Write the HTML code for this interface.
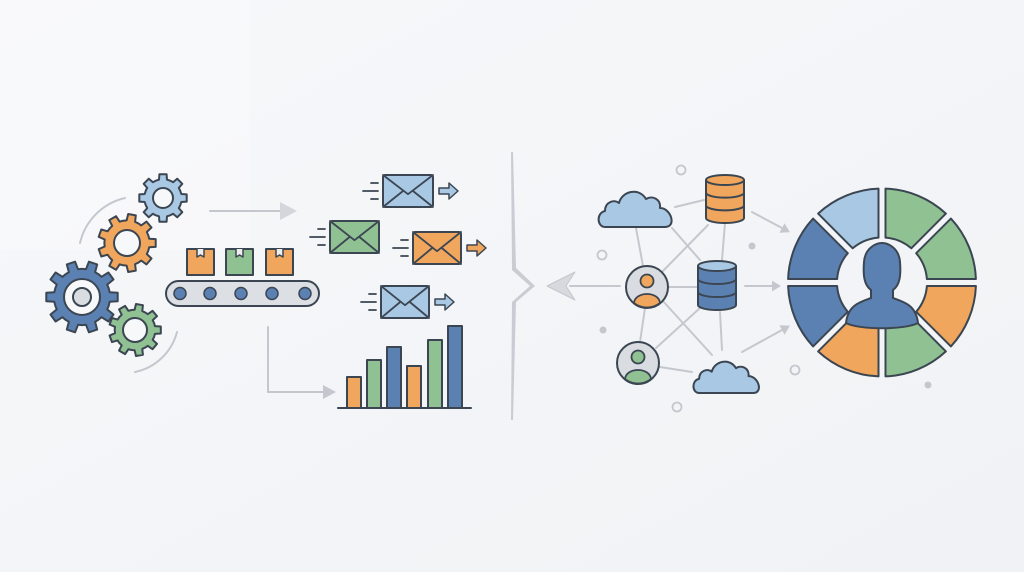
<!DOCTYPE html>
<html><head><meta charset="utf-8"><style>
html,body{margin:0;padding:0;background:#f2f4f7;}
svg{display:block}
</style></head><body>
<svg id="s" width="1024" height="572" viewBox="0 0 1024 572" xmlns="http://www.w3.org/2000/svg">
<defs>
<linearGradient id="bg" x1="0" y1="0" x2="1" y2="1">
<stop offset="0" stop-color="#f7f8fa"/><stop offset="1" stop-color="#f0f2f5"/>
</linearGradient>
</defs>
<rect width="1024" height="572" fill="url(#bg)"/>
<rect width="250" height="250" fill="#f9fafb" opacity="0.7"/>
<g id="g" stroke-linecap="round" stroke-linejoin="round"></g>
</svg>
<script>
var g=document.getElementById('g');var S='#3b4652';
var DB='#5b80b2',LB='#a9c8e4',OR='#f0a75d',GR='#90c193',GY='#bcc1c8';
function add(t,a){var e=document.createElementNS('http://www.w3.org/2000/svg',t);for(var k in a)e.setAttribute(k,a[k]);g.appendChild(e);return e;}
function gear(cx,cy,R,fill,n,hole,inner){
 var pts=[],ri=R*0.78,tw=Math.PI/n*0.55;
 for(var i=0;i<n;i++){var a=i*2*Math.PI/n;
  var b=[a-Math.PI/n*0.95,a-tw,a-tw*0.7,a+tw*0.7,a+tw,a+Math.PI/n*0.95-0.001];
  var r=[ri,ri,R,R,ri,ri];
  for(var j=0;j<6;j++)pts.push((cx+r[j]*Math.cos(b[j])).toFixed(1)+','+(cy+r[j]*Math.sin(b[j])).toFixed(1));}
 add('polygon',{points:pts.join(' '),fill:fill,stroke:S,'stroke-width':2});
 add('circle',{cx:cx,cy:cy,r:hole,fill:'#f7f8fa',stroke:S,'stroke-width':2});
 if(inner)add('circle',{cx:cx,cy:cy,r:inner,fill:'#d9dce0',stroke:S,'stroke-width':2});
}
add('path',{d:'M80,243 A60,60 0 0 1 125,198',fill:'none',stroke:'#c4c8ce','stroke-width':2});
add('path',{d:'M177,332 A55,55 0 0 1 135,372',fill:'none',stroke:'#c4c8ce','stroke-width':2});
gear(163,198,24,LB,8,10);
gear(127,243,29,OR,9,13);
gear(82,297,36,DB,10,18,9);
gear(135,330,26,GR,9,12);
add('line',{x1:210,y1:211,x2:282,y2:211,stroke:'#c4c8ce','stroke-width':2});
add('polygon',{points:'280,202 297,211 280,220',fill:'#d3d6db'});
[[187,OR],[226,GR],[266,OR]].forEach(function(b){
 add('rect',{x:b[0],y:249,width:27,height:26,fill:b[1],stroke:S,'stroke-width':2});
 add('path',{d:'M'+(b[0]+10)+',249 v8 l3.5,-2 l3.5,2 v-8',fill:'#eee',stroke:S,'stroke-width':1.5});
});
add('rect',{x:166,y:281,width:153,height:25,rx:12.5,fill:'#dcdfe4',stroke:S,'stroke-width':2});
[180,210,241,272,305].forEach(function(x){add('circle',{cx:x,cy:293.5,r:6,fill:DB,stroke:S,'stroke-width':1.5});});
function env(x,y,w,h,f,arrowFill){
 add('rect',{x:x,y:y,width:w,height:h,rx:2,fill:f,stroke:S,'stroke-width':2});
 add('path',{d:'M'+x+','+y+' L'+(x+w/2)+','+(y+h*0.6)+' L'+(x+w)+','+y+' M'+x+','+(y+h)+' L'+(x+w*0.4)+','+(y+h*0.5)+' M'+(x+w)+','+(y+h)+' L'+(x+w*0.6)+','+(y+h*0.5),fill:'none',stroke:S,'stroke-width':1.8});
 var my=y+h/2;
 add('path',{d:'M'+(x-12)+','+(my-8)+' h7 M'+(x-20)+','+my+' h15 M'+(x-12)+','+(my+8)+' h7',stroke:S,'stroke-width':1.8});
 if(!arrowFill)return;
 var ax=x+w+6;
 add('path',{d:'M'+ax+','+(my-3)+' h10 v-5 l9,8 l-9,8 v-5 h-10 z',fill:arrowFill,stroke:S,'stroke-width':1.5});
}
env(383,175,50,32,LB,LB);
env(330,221,49,32,GR,null);
env(413,232,48,32,OR,OR);
env(381,286,48,32,LB,LB);
add('line',{x1:268,y1:327,x2:268,y2:392,stroke:'#c4c8ce','stroke-width':2});
add('line',{x1:268,y1:392,x2:325,y2:392,stroke:'#c4c8ce','stroke-width':2});
add('polygon',{points:'323,385 336,392 323,399',fill:'#c4c8ce'});
[[347,377,OR],[367,360,GR],[387,347,DB],[407,366,OR],[428,340,GR],[448,326,DB]].forEach(function(b){
 add('rect',{x:b[0],y:b[1],width:14,height:408-b[1],fill:b[2],stroke:S,'stroke-width':2});});
add('line',{x1:338,y1:408,x2:471,y2:408,stroke:S,'stroke-width':2});
add('polygon',{points:'511,152 513,152 516,268 535,286 516,302 513,420 511,420 512,302 530,286 512,270',fill:'#c9ccd2'});
var L='#c4c8ce';
[[675,207,704,200],[636,228,643,266],[672,228,700,260],[708,225,663,271],[725,223,722,260],[668,287,697,287],[645,308,640,342],[662,300,712,355],[700,308,656,348],[720,312,722,350],[660,367,692,372]].forEach(function(l){
 add('line',{x1:l[0],y1:l[1],x2:l[2],y2:l[3],stroke:L,'stroke-width':2});});
function arr(x1,y1,x2,y2,hs,f){add('line',{x1:x1,y1:y1,x2:x2,y2:y2,stroke:L,'stroke-width':2});
 var a=Math.atan2(y2-y1,x2-x1),c=Math.cos(a),s=Math.sin(a);
 var p=[x2+c*hs,y2+s*hs,x2-s*hs*0.6,y2+c*hs*0.6,x2+s*hs*0.6,y2-c*hs*0.6];
 add('polygon',{points:p[0]+','+p[1]+' '+p[2]+','+p[3]+' '+p[4]+','+p[5],fill:f});}
arr(752,212,782,228,9,'#c4c8ce');arr(745,286,772,286,9,'#c4c8ce');arr(742,352,782,330,9,'#c4c8ce');
add('line',{x1:570,y1:286,x2:620,y2:286,stroke:L,'stroke-width':2});
add('path',{d:'M547,286 L575,272 L566,286 L575,300 Z',fill:'#d6d9de',stroke:'#c4c8ce','stroke-width':1});
function cloud(x,y,w,h){var sx=w/78,sy=h/45;
 add('path',{transform:'translate('+x+','+y+') scale('+sx+','+sy+')',d:'M8,45 C0,45 -1,31 8,29 C8,20 17,17 22,21 C25,9 42,5 49,17 C55,13 64,17 63,26 C74,26 80,45 68,45 Z',fill:LB,stroke:S,'stroke-width':2/((sx+sy)/2)});}
cloud(597,182,78,45);cloud(692,353,70,40);
function db(x,y,w,h,f){var rx=w/2,ry=5,cx=x+rx;
 add('path',{d:'M'+x+','+(y+ry)+' v'+(h-2*ry)+' a'+rx+','+ry+' 0 0 0 '+w+',0 v-'+(h-2*ry)+' z',fill:f,stroke:S,'stroke-width':2});
 for(var i=1;i<3;i++){var yy=y+ry+(h-2*ry)*i/3;add('path',{d:'M'+x+','+yy+' a'+rx+','+ry+' 0 0 0 '+w+',0',fill:'none',stroke:S,'stroke-width':2});}
 add('ellipse',{cx:cx,cy:y+ry,rx:rx,ry:ry,fill:f==DB?LB:f,stroke:S,'stroke-width':2});}
db(706,175,38,48,OR);db(698,261,38,49,DB);
function person(cx,cy,f){add('circle',{cx:cx,cy:cy,r:21,fill:'#d9dce0',stroke:S,'stroke-width':2});
 add('circle',{cx:cx,cy:cy-6,r:6.5,fill:f,stroke:S,'stroke-width':1.8});
 add('path',{d:'M'+(cx-13)+','+(cy+16)+' C'+(cx-12)+','+(cy+4)+' '+(cx+12)+','+(cy+4)+' '+(cx+13)+','+(cy+16)+' A21,21 0 0 1 '+(cx-13)+','+(cy+16)+' Z',fill:f,stroke:S,'stroke-width':1.8});}
person(647,287,OR);person(638,363,GR);
[[681,170],[602,255],[795,370],[677,407]].forEach(function(p){add('circle',{cx:p[0],cy:p[1],r:4.5,fill:'none',stroke:'#c4c8ce','stroke-width':1.8});});
[[752,246],[603,330],[928,385]].forEach(function(p){add('circle',{cx:p[0],cy:p[1],r:3.5,fill:'#c4c8ce'});});
var cx=882,cy=282.5,Ro=94,Ri=45,gap=3.5;
var cols=[OR,GR,OR,DB,DB,LB,GR,GR];
for(var i=0;i<8;i++){var a1=i*Math.PI/4,a2=a1+Math.PI/4;
 var go=gap/Ro,gi=gap/Ri;
 function P(r,a){return (cx+r*Math.cos(a)).toFixed(1)+','+(cy+r*Math.sin(a)).toFixed(1);}
 add('path',{d:'M'+P(Ro,a1+go)+' A'+Ro+','+Ro+' 0 0 1 '+P(Ro,a2-go)+' L'+P(Ri,a2-gi)+' A'+Ri+','+Ri+' 0 0 0 '+P(Ri,a1+gi)+' Z',fill:cols[i],stroke:S,'stroke-width':2});}
add('path',{d:'M846,323 C848,305 860,302 871,298 L871,290 C864,285 863,275 864,262 C865,248 876,243 882,243 C888,243 899,248 900,262 C901,275 900,285 893,290 L893,298 C904,302 916,305 918,323 C905,330 859,330 846,323 Z',fill:DB,stroke:S,'stroke-width':2});
</script>
</body></html>
